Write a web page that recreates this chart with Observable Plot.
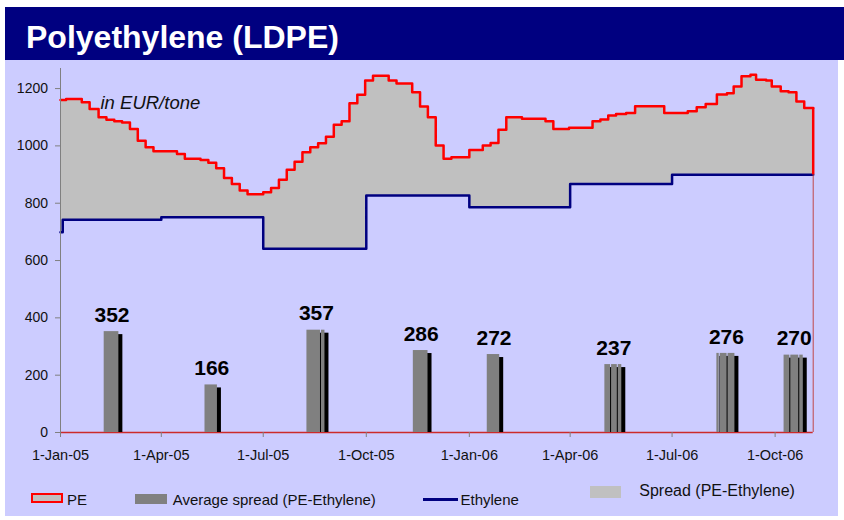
<!DOCTYPE html>
<html><head><meta charset="utf-8">
<script src="https://cdn.jsdelivr.net/npm/d3@7"></script>
<script src="https://cdn.jsdelivr.net/npm/@observablehq/plot@0.6"></script>
<style>
html,body{margin:0;padding:0;background:#fff;width:844px;height:520px;overflow:hidden;font-family:"Liberation Sans",Arial,Helvetica,sans-serif;}
#title{position:absolute;left:5px;top:7px;width:839px;height:53px;background:#000080;}
#title span{position:absolute;left:21px;top:13.5px;font-size:32px;line-height:32px;font-weight:bold;color:#fff;white-space:nowrap;}
#panel{position:absolute;left:5px;top:60px;width:833px;height:456px;background:#ccccff;}
#chart{position:absolute;left:0;top:0;width:833px;height:410px;}
.lg{position:absolute;white-space:nowrap;color:#111;}
.box{position:absolute;box-sizing:border-box;}
</style></head>
<body>
<div id="title"><span>Polyethylene (LDPE)</span></div>
<div id="panel">
  <div id="chart"></div>
  <div class="box" style="left:25.7px;top:433.3px;width:32.6px;height:10px;border:2px solid #ff0000;background:#c0c0c0;"></div>
  <div class="lg" style="left:62px;top:431.6px;font-size:15px;line-height:15px;">PE</div>
  <div class="box" style="left:130px;top:434px;width:32.3px;height:10px;background:#808080;"></div>
  <div class="lg" style="left:167.7px;top:431.6px;font-size:15px;line-height:15px;">Average spread (PE-Ethylene)</div>
  <div class="box" style="left:418.3px;top:437.8px;width:35px;height:3px;background:#000080;"></div>
  <div class="lg" style="left:455.5px;top:432.3px;font-size:15px;line-height:15px;">Ethylene</div>
  <div class="box" style="left:585px;top:426px;width:31px;height:11.7px;background:#c0c0c0;"></div>
  <div class="lg" style="left:634.3px;top:423.2px;font-size:16px;line-height:16px;">Spread (PE-Ethylene)</div>
</div>
<script>
// ---- Data ----
const startDate = "2005-01-01";
const endDate = "2006-11-04";

const peDates = ["2005-01-01","2005-01-06","2005-01-20","2005-01-27","2005-02-04","2005-02-11","2005-02-18","2005-02-25",
  "2005-03-04","2005-03-11","2005-03-18","2005-03-25","2005-04-15","2005-04-22","2005-05-06","2005-05-13","2005-05-20",
  "2005-05-27","2005-06-03","2005-06-10","2005-06-17","2005-07-01","2005-07-08","2005-07-15","2005-07-22","2005-07-29",
  "2005-08-05","2005-08-12","2005-08-19","2005-08-26","2005-09-02","2005-09-09","2005-09-16","2005-09-23","2005-09-30",
  "2005-10-07","2005-10-21","2005-10-28","2005-11-11","2005-11-18","2005-11-25","2005-12-02","2005-12-09","2005-12-16",
  "2006-01-01","2006-01-13","2006-01-20","2006-01-27","2006-02-03","2006-02-17","2006-03-10","2006-03-17","2006-03-31",
  "2006-04-21","2006-04-28","2006-05-05","2006-05-12","2006-05-21","2006-05-29","2006-06-24","2006-07-15","2006-07-23",
  "2006-07-31","2006-08-10","2006-08-19","2006-08-25","2006-09-01","2006-09-09","2006-09-14","2006-09-23","2006-09-28",
  "2006-10-06","2006-10-13","2006-10-20","2006-10-27"];
const peValues = [1160,1164,1152,1129,1100,1091,1086,1082,
  1059,1018,995,981,972,955,951,941,922,
  888,867,844,831,838,853,882,917,945,
  978,995,1009,1032,1074,1086,1149,1178,1228,
  1245,1228,1218,1187,1137,1100,1001,955,960,
  986,1001,1010,1056,1100,1095,1086,1059,1063,
  1086,1092,1106,1111,1115,1138,1115,1121,1135,
  1146,1179,1184,1207,1243,1248,1231,1228,1207,
  1191,1187,1155,1132];

const ethDates = ["2005-01-01","2005-01-03","2005-04-01","2005-07-01","2005-10-01","2006-01-01","2006-04-01","2006-07-01"];
const ethValues = [699,742,751,641,827,786,867,899];

const avgValues = [352,166,357,286,272,237,276,270];
const barStarts = ["2005-02-09","2005-05-10","2005-08-09","2005-08-22","2005-11-12","2006-01-17",
  "2006-05-02","2006-05-08","2006-05-14","2006-08-10","2006-08-13","2006-08-20","2006-10-09","2006-10-15","2006-10-23"];
const barEnds = ["2005-02-23","2005-05-22","2005-08-22","2005-08-26","2005-11-26","2006-01-29",
  "2006-05-08","2006-05-14","2006-05-18","2006-08-13","2006-08-20","2006-08-27","2006-10-15","2006-10-23","2006-10-27"];
const barGroup = [0,1,2,2,3,4,5,5,5,6,6,6,7,7,7];

const xTickDates = ["2005-01-01","2005-04-01","2005-07-01","2005-10-01","2006-01-01","2006-04-01","2006-07-01","2006-10-01"];
const xTickLabels = ["1-Jan-05","1-Apr-05","1-Jul-05","1-Oct-05","1-Jan-06","1-Apr-06","1-Jul-06","1-Oct-06"];
const yTicks = [0,200,400,600,800,1000,1200];

// ---- Build tables ----
const start = new Date(startDate), end = new Date(endDate);
const pe = peDates.map((d,i) => ({date: new Date(d), value: peValues[i]}));
pe.push({date: end, value: peValues[peValues.length-1]});
const eth = ethDates.map((d,i) => ({date: new Date(d), value: ethValues[i]}));
eth.push({date: end, value: ethValues[ethValues.length-1]});
const peLast = peValues[peValues.length-1], ethLast = ethValues[ethValues.length-1];

const stepAt = (series, t) => { let v = series[0].value; for (const p of series) { if (+p.date <= t) v = p.value; else break; } return v; };
const times = Array.from(new Set([...pe, ...eth].map(d => +d.date))).sort((a,b) => a-b);
const spread = times.map(t => ({date: new Date(t), pe: stepAt(pe, t), eth: stepAt(eth, t)}));

const bars = barStarts.map((s,i) => ({x1: new Date(s), x2: new Date(barEnds[i]), value: avgValues[barGroup[i]]}));
const groups = avgValues.map((v,g) => {
  const bs = bars.filter((b,i) => barGroup[i] === g);
  return {date: new Date((+bs[0].x1 + +bs[bs.length-1].x2) / 2), value: v};
});
const tickLabelMap = new Map(xTickDates.map((d,i) => [+new Date(d), xTickLabels[i]]));

const font = "'Liberation Sans', Arial, Helvetica, sans-serif";
const chart = Plot.plot({
  width: 833, height: 410,
  marginLeft: 55, marginRight: 25.3, marginTop: 8, marginBottom: 38,
  style: {background: "transparent", fontFamily: font, fontSize: "14px", color: "#111", overflow: "visible"},
  x: {type: "utc", domain: [start, end]},
  y: {domain: [0, 1270]},
  marks: [
    Plot.areaY(spread, {x: "date", y1: "eth", y2: "pe", curve: "step-after", fill: "#c0c0c0"}),
    Plot.ruleY([0], {stroke: "#cc2a2a", strokeWidth: 1.5}),
    Plot.rect(bars, {x1: "x1", x2: "x2", y1: 0, y2: "value", fill: "#000000", dx: 3, insetTop: 3}),
    Plot.rect(bars, {x1: "x1", x2: "x2", y1: 0, y2: "value", fill: "#808080", insetRight: 1}),
    Plot.lineY(eth, {x: "date", y: "value", curve: "step-after", stroke: "#000080", strokeWidth: 2.5}),
    Plot.lineY(pe, {x: "date", y: "value", curve: "step-after", stroke: "#ff0000", strokeWidth: 2.5}),
    Plot.ruleX([end], {y1: 0, y2: ethLast, stroke: "#c04848", strokeWidth: 1}),
    Plot.ruleX([end], {y1: ethLast, y2: peLast, stroke: "#ff0000", strokeWidth: 2.5}),
    Plot.ruleX([start], {stroke: "#808080", strokeWidth: 1}),
    Plot.axisY({ticks: yTicks, tickFormat: d => String(d), tickSize: 5, tickPadding: 7.5, stroke: "#808080", fill: "#111", fontSize: 14, label: null}),
    Plot.axisX({ticks: xTickDates.map(d => new Date(d)), tickFormat: d => tickLabelMap.get(+d), tickSize: 5, tickPadding: 12, stroke: "#808080", fill: "#111", fontSize: 14.5, label: null}),
    Plot.text(groups, {x: "date", y: "value", text: d => String(d.value), lineAnchor: "bottom", dy: -9.7, fontSize: 21, fontWeight: "bold", fill: "#000"}),
    Plot.text(["in EUR/tone"], {frameAnchor: "top-left", text: d => d, dx: 40, dy: 40.3, lineAnchor: "bottom", textAnchor: "start", fontStyle: "italic", fontSize: 18.5, fill: "#111"})
  ]
});
document.getElementById("chart").appendChild(chart);
</script>
</body></html>
